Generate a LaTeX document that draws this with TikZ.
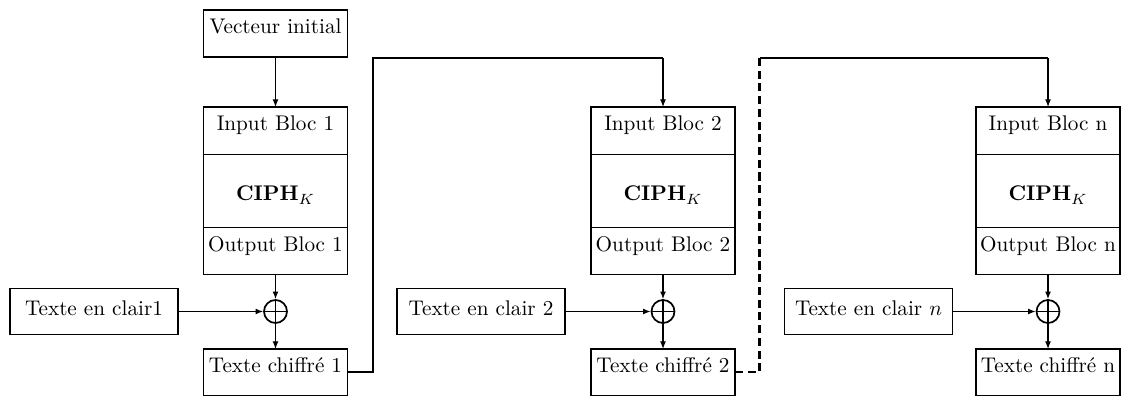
\documentclass[tikz,border=0pt]{standalone}
\usetikzlibrary{arrows.meta}
\begin{document}
\begin{tikzpicture}[x=0.4717pt,y=-0.4717pt,
  box/.style={draw, line width=0.7pt, outer sep=0pt, minimum width=67.92pt, inner xsep=1pt, inner ysep=0pt,
    text height=1.6ex, text depth=1.6ex},
  ciphbox/.style={box, minimum height=34.43pt, text height=11pt, text depth=1.6pt},
  plainbox/.style={draw, line width=0.7pt, minimum width=79.25pt, minimum height=21.46pt,
    inner xsep=1pt, inner ysep=0pt, text height=7pt, text depth=3.2pt},
  xorop/.style={draw, circle, line width=0.8pt, minimum size=10.85pt, inner sep=0pt},
  arrow/.style={line width=0.55pt, -{Latex[length=3.6pt,width=2.8pt]}},
  link/.style={line width=1.1pt},
  dashlink/.style={line width=1.1pt, dash pattern=on 3.8pt off 2.2pt}
]
\useasboundingbox (0,0) rectangle (1122,397);

% ---- block 1 ----
\node[box, minimum height=22.17pt] (vec) at (275.5,33.5) {Vecteur initial};
\node[box, minimum height=22.41pt, anchor=north] (in1) at (275.5,107) {Input Bloc 1};
\node[ciphbox, anchor=north] (ci1) at (in1.south) {$\mathbf{CIPH}_K$};
\node[box, minimum height=22.17pt, anchor=north] (out1) at (ci1.south) {Output Bloc 1};
\node[xorop] (x1) at (275.5,311.5) {};
\node[plainbox] (p1) at (94,311.5) {Texte en clair1};
\node[box, minimum height=21.93pt] (c1) at (275.5,372.25) {Texte chiffré 1};

% ---- block 2 ----
\node[box, minimum height=22.41pt, anchor=north] (in2) at (663,107) {Input Bloc 2};
\node[ciphbox, anchor=north] (ci2) at (in2.south) {$\mathbf{CIPH}_K$};
\node[box, minimum height=22.17pt, anchor=north] (out2) at (ci2.south) {Output Bloc 2};
\node[xorop] (x2) at (663,311.5) {};
\node[plainbox] (p2) at (481,311.5) {Texte en clair 2};
\node[box, minimum height=21.93pt] (c2) at (663,372.25) {Texte chiffré 2};

% ---- block n ----
\node[box, minimum height=22.41pt, anchor=north] (in3) at (1048,107) {Input Bloc n};
\node[ciphbox, anchor=north] (ci3) at (in3.south) {$\mathbf{CIPH}_K$};
\node[box, minimum height=22.17pt, anchor=north] (out3) at (ci3.south) {Output Bloc n};
\node[xorop] (x3) at (1048,311.5) {};
\node[plainbox] (p3) at (868.5,311.5) {Texte en clair $n$};
\node[box, minimum height=21.93pt] (c3) at (1048,372.25) {Texte chiffré n};

% plus signs inside the XOR circles
\foreach \x in {x1,x2,x3}{
  \draw[line width=0.55pt] (\x.north) -- (\x.south);
  \draw[line width=0.55pt] (\x.west) -- (\x.east);
}

% data flow inside each block
\draw[arrow] (vec.south) -- (in1.north);
\foreach \i in {1,2,3}{
  \draw[arrow] (out\i.south) -- (x\i.north);
  \draw[arrow] (p\i.east) -- (x\i.west);
  \draw[arrow] (x\i.south) -- (c\i.north);
}

% chaining: ciphertext feeds the next block
\coordinate (k1) at (373,58);
\coordinate (k1e) at (k1 -| in2.north);
\draw[link] (c1.east) -| (k1) -- (k1e);
\draw[arrow] (k1e) -- (in2.north);

\coordinate (k2) at (759.5,58.3);
\coordinate (k2e) at (k2 -| in3.north);
\draw[dashlink] (c2.east) -| (k2);
\draw[link] (k2) -- (k2e);
\draw[arrow] (k2e) -- (in3.north);
\end{tikzpicture}
\end{document}
